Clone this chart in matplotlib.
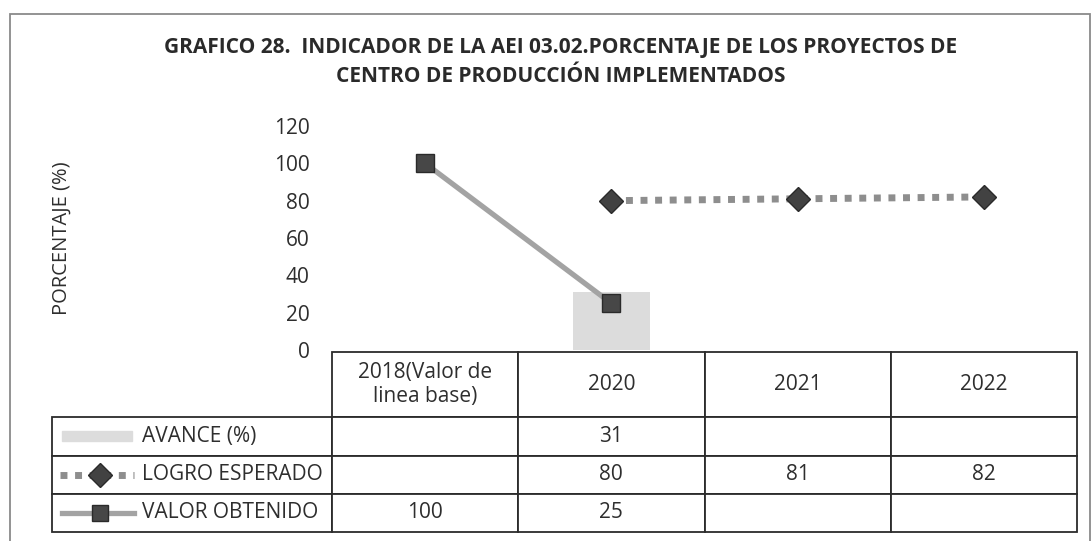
import numpy as np
import matplotlib
matplotlib.use("Agg")
import matplotlib.pyplot as plt
from matplotlib.patches import Rectangle

categories = ["2018(Valor de\nlinea base)", "2020", "2021", "2022"]
series_names = ["AVANCE (%)", "LOGRO ESPERADO", "VALOR OBTENIDO"]
avance = [None, 31, None, None]
logro = [None, 80, 81, 82]
valor = [100, 25, None, None]
yticks = [0, 20, 40, 60, 80, 100, 120]

title = ("GRAFICO 28.  INDICADOR DE LA AEI 03.02.PORCENTAJE DE LOS PROYECTOS DE\n"
         "CENTRO DE PRODUCCIÓN IMPLEMENTADOS")
ylabel = "PORCENTAJE (%)"

W, H = 1092, 541
plt.rcParams['font.family'] = ['Open Sans', 'DejaVu Sans']


def num(v):
    return np.nan if v is None else v


def fx(px):
    return px / W


def fy(py):
    return 1 - py / H


fig = plt.figure(figsize=(W / 100, H / 100), dpi=100)
fig.patch.set_facecolor('white')

# plot area in pixels: x 332..1077, y 126..350
ax_l, ax_r, ax_t, ax_b = 332, 1077, 126, 350
ax = fig.add_axes([fx(ax_l), fy(ax_b), fx(ax_r - ax_l), (ax_b - ax_t) / H])

x = np.arange(len(categories))
ax.bar(x, [num(v) for v in avance], width=0.41, color='#dcdcdc', zorder=1)
ax.plot(x, [num(v) for v in valor], color='#a3a3a3', lw=3.8,
        marker='s', ms=12.5, mfc='#474747', mec='#2a2a2a', mew=1, zorder=3)
ax.plot(x, [num(v) for v in logro], color='#8e8e8e', lw=5,
        linestyle=(0, (1, 1.1)), dash_capstyle='butt',
        marker='D', ms=12.5, mfc='#424242', mec='#2a2a2a', mew=1, zorder=3)

ax.set_xlim(-0.5, len(categories) - 0.5)
ax.set_ylim(0, 120)
ax.set_yticks(yticks)
ax.set_xticks([])
ax.tick_params(axis='y', length=0, pad=16, labelsize=15, labelcolor='#2e2e2e')
for s in ax.spines.values():
    s.set_visible(False)

# data table under the plot
def cell(v):
    return '' if v is None else str(v)

cell_text = [[cell(v) for v in avance],
             [cell(v) for v in logro],
             [cell(v) for v in valor]]

tab_t, tab_b = 352, 532
aw, ah = ax_r - ax_l, ax_b - ax_t
ncol = len(categories)
col_w = 1 / ncol
# bbox covers only the value columns; the label column hangs to the left
bbox = [0, (ax_b - tab_b) / ah, 1, (tab_b - tab_t) / ah]
tbl = ax.table(cellText=cell_text, colLabels=categories,
               colWidths=[col_w] * ncol, cellLoc='center', bbox=bbox)
for i, name in enumerate(series_names):
    tbl.add_cell(i + 1, -1, width=col_w * 280 / 186, height=1, text=name,
                 loc='left')
tbl.auto_set_font_size(False)
tbl.set_fontsize(15)
for (r, c), cl in tbl.get_celld().items():
    cl.set_edgecolor('#2b2b2b')
    cl.set_linewidth(1.3)
    cl.set_height(65 if r == 0 else 38)
    cl.get_text().set_color('#2e2e2e')
    if c == -1:
        cl.PAD = 90 / 280

# legend keys inside the row label cells
def ax_pt(px, py):
    return (px - ax_l) / aw, (ax_b - py) / ah

row_y = [436.5, 475, 513]
k0, k1 = ax_pt(62, row_y[0]), ax_pt(132, row_y[0])
ax.add_patch(Rectangle((k0[0], k0[1] - 5 / ah), k1[0] - k0[0], 10 / ah,
                       transform=ax.transAxes, color='#dcdcdc', clip_on=False))
p0, p1, pm = ax_pt(60, row_y[1]), ax_pt(134, row_y[1]), ax_pt(100, row_y[1])
ax.plot([p0[0], p1[0]], [p0[1], p1[1]], transform=ax.transAxes, clip_on=False,
        color='#8e8e8e', lw=5, linestyle=(0, (1, 1.1)), dash_capstyle='butt')
ax.plot([pm[0]], [pm[1]], transform=ax.transAxes, clip_on=False,
        marker='D', ms=12, mfc='#424242', mec='#2a2a2a')
p0, p1, pm = ax_pt(62, row_y[2]), ax_pt(134, row_y[2]), ax_pt(100, row_y[2])
ax.plot([p0[0], p1[0]], [p0[1], p1[1]], transform=ax.transAxes, clip_on=False,
        color='#a3a3a3', lw=3.8)
ax.plot([pm[0]], [pm[1]], transform=ax.transAxes, clip_on=False,
        marker='s', ms=12, mfc='#474747', mec='#2a2a2a')

fig.text(fx(561), fy(62), title, ha='center', va='center', fontsize=15,
         fontweight='bold', color='#2a2a2a', linespacing=1.45)
fig.text(fx(62), fy(238), ylabel, ha='center', va='center', rotation=90,
         fontsize=14.5, color='#2e2e2e')

# chart border
fig.patches.append(Rectangle((fx(10), fy(545)), fx(1080), (545 - 14) / H,
                             transform=fig.transFigure, fill=False,
                             edgecolor='#8a8a8a', lw=1.3))

fig.savefig('out.png', dpi=100)
